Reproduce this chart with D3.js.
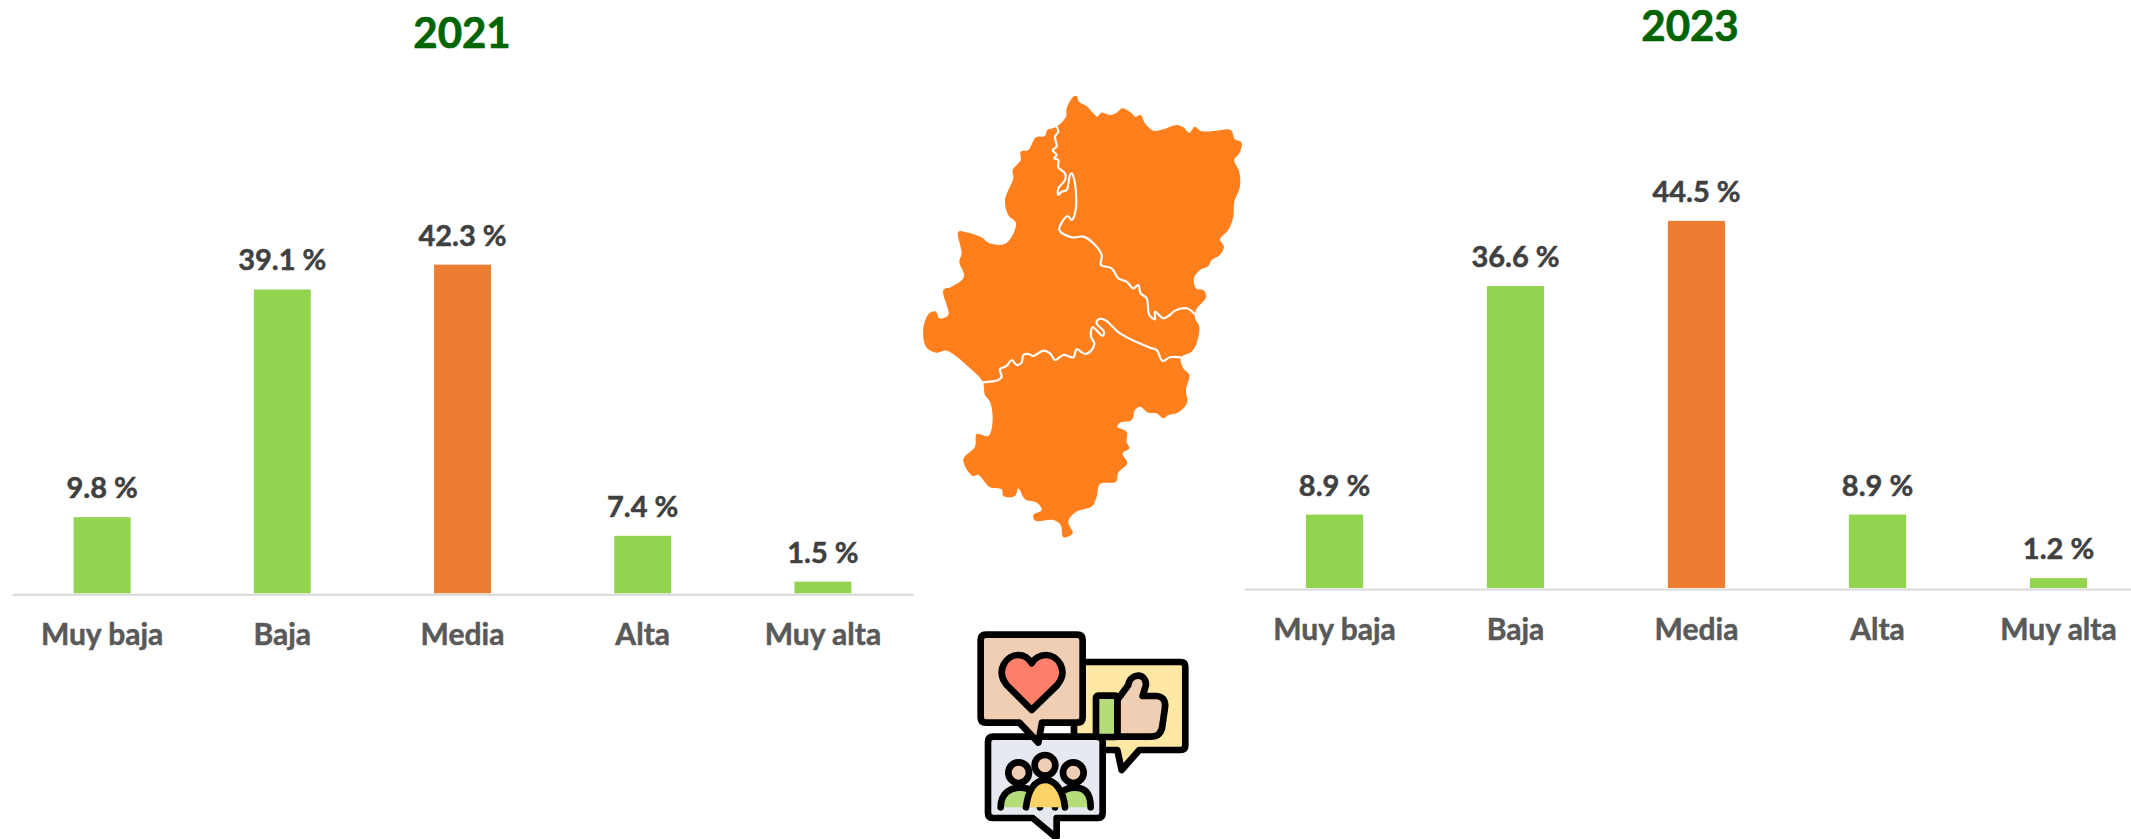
<!DOCTYPE html>
<html><head><meta charset="utf-8">
<script src="https://cdn.jsdelivr.net/npm/d3@7"></script>
<style>html,body{margin:0;padding:0;background:#fff;overflow:hidden}svg{display:block}
text{font-family:Lato,"Open Sans",sans-serif;font-weight:700}</style></head>
<body><svg id="c" width="2131" height="839"></svg>
<script>
const categories = ["Muy baja","Baja","Media","Alta","Muy alta"];
const values2021 = [9.8,39.1,42.3,7.4,1.5];
const values2023 = [8.9,36.6,44.5,8.9,1.2];
const highlight = "Media";
const mapOutline = [[530,48],[537,65],[560,78],[580,100],[592,110],[604,98],[630,105],[650,98],[668,85],[695,100],[705,110],[722,105],[735,130],[760,152],[790,148],[830,135],[850,142],[868,158],[885,140],[903,153],[950,152],[992,150],[1005,178],[1025,188],[1018,220],[1003,240],[1018,275],[1020,320],[1003,365],[1000,410],[985,450],[960,478],[972,500],[960,525],[935,540],[925,558],[900,570],[882,595],[888,625],[912,632],[918,652],[888,690],[885,715],[898,740],[890,790],[875,815],[843,832],[850,865],[868,885],[858,930],[862,965],[850,985],[830,1000],[805,1005],[790,1015],[770,1000],[745,998],[720,980],[705,990],[695,1020],[660,1028],[652,1040],[680,1055],[680,1085],[688,1105],[668,1120],[682,1150],[655,1178],[648,1205],[600,1212],[590,1250],[575,1280],[530,1295],[505,1325],[518,1360],[490,1372],[482,1335],[460,1320],[405,1322],[400,1305],[425,1290],[410,1268],[375,1258],[355,1225],[345,1248],[310,1248],[305,1228],[270,1222],[235,1185],[218,1188],[190,1138],[225,1100],[230,1062],[265,1068],[278,1020],[270,965],[255,945],[248,905],[205,860],[140,812],[110,818],[78,800],[70,745],[88,700],[108,695],[118,715],[145,705],[130,630],[155,620],[192,590],[178,545],[185,520],[175,455],[205,458],[245,472],[268,490],[318,490],[348,430],[325,405],[315,360],[340,295],[338,270],[362,240],[362,215],[385,210],[408,172],[435,168],[442,150],[470,140],[498,110],[500,85],[520,50]];
const borderNorth = [[470,140],[475,155],[465,170],[470,200],[458,210],[470,225],[463,235],[475,240],[475,262],[495,280],[495,300],[475,325],[475,345],[485,335],[500,330],[510,285],[515,280],[525,310],[527,390],[515,420],[503,408],[478,450],[515,472],[550,470],[580,490],[605,525],[603,555],[635,565],[655,595],[680,605],[700,625],[715,615],[722,640],[740,655],[748,705],[765,718],[765,695],[790,715],[810,705],[825,692],[860,685],[885,703]];
const borderSouth = [[248,907],[295,900],[305,890],[300,868],[320,858],[335,840],[350,855],[365,848],[370,825],[385,822],[400,828],[430,812],[450,820],[465,840],[490,825],[520,832],[530,808],[555,822],[575,810],[583,790],[573,770],[578,742],[608,768],[612,755],[590,730],[595,718],[615,720],[660,760],[750,803],[770,810],[788,843],[810,832],[843,832]];

const svg = d3.select("#c");
const GREEN="#92d350", ORANGE="#ed7d31";

function panel(opt){
  const x = d3.scaleBand().domain(categories).range(opt.xr).paddingInner(0.684).paddingOuter(0.342);
  const y = d3.scaleLinear().domain([0,50]).range([opt.base, opt.base-50*opt.k]);
  const g = svg.append("g");
  g.selectAll("rect").data(opt.values).join("rect")
    .attr("x",(d,i)=>x(categories[i])).attr("width",x.bandwidth())
    .attr("y",d=>y(d)).attr("height",d=>y(0)-y(d))
    .attr("fill",(d,i)=>categories[i]===highlight?ORANGE:GREEN);
  g.selectAll("text.v").data(opt.values).join("text").attr("class","v")
    .attr("x",(d,i)=>x(categories[i])+x.bandwidth()/2)
    .attr("y",d=>y(d)-19).attr("text-anchor","middle")
    .attr("font-size",29).attr("fill","#404040").attr("stroke","#404040").attr("stroke-width",0.5).text(d=>d.toFixed(1)+" %");
  const ax = g.append("g").attr("transform",`translate(0,${opt.base+1})`)
    .call(d3.axisBottom(x).tickSize(0).tickPadding(0));
  ax.select(".domain").attr("stroke","#d9d9d9").attr("stroke-width",2);
  ax.selectAll("text").attr("font-size",30).attr("fill","#595959").attr("stroke","#595959").attr("stroke-width",0.5).attr("dy",0).attr("y",opt.catY-opt.base-1)
    .style("font-family",'Lato,"Open Sans",sans-serif');
  svg.append("text").attr("x",opt.tx).attr("y",opt.ty).attr("text-anchor","middle")
    .attr("font-size",42).attr("fill","#006400").attr("stroke","#006400").attr("stroke-width",0.7).text(opt.title);
}
panel({values:values2021,xr:[12,913],base:593.3,k:7.77,catY:645,title:"2021",tx:462,ty:48});
panel({values:values2023,xr:[1244,2149],base:588,k:8.25,catY:640,title:"2023",tx:1690,ty:41});

// Aragon map (zoom-crop coordinates, 3x)
const mapG = svg.append("g").attr("transform","translate(900,80) scale(0.3333)");
mapG.append("path").attr("d",d3.line().curve(d3.curveCatmullRomClosed.alpha(0.5))(mapOutline)).attr("fill","#ff7f1d");
const bl = d3.line().curve(d3.curveCatmullRom.alpha(0.5));
[borderNorth,borderSouth].forEach(b=>mapG.append("path").attr("d",bl(b)).attr("fill","none").attr("stroke","#fff").attr("stroke-width",6.5).attr("stroke-linejoin","round"));

// Opinion icon (zoom-crop coordinates, 3x)
const ic = svg.append("g").attr("transform","translate(960,620) scale(0.3333)")
  .attr("stroke","#000").attr("stroke-width",20).attr("stroke-linejoin","round").attr("stroke-linecap","round");
ic.append("path").attr("fill","#ffe8a3").attr("d","M360,126H662Q676,126 676,140V376Q676,390 662,390H538L485,450L472,390H354Q342,390 342,376V300Z");
ic.append("path").attr("fill","#e6e9ef").attr("d","M100,350H412Q428,350 428,366V578Q428,594 412,594H290V650H285L218,594H100Q84,594 84,578V366Q84,350 100,350Z");
ic.append("path").attr("fill","#f0ceb3").attr("d","M78,44H352Q368,44 368,60V292Q368,308 352,308H246L235,368L178,308H78Q62,308 62,292V60Q62,44 78,44Z");
ic.append("path").attr("fill","#ff7f6a").attr("d","M215,270L140,195C105,150 140,105 175,105C195,105 208,118 215,130C222,118 238,105 258,105C292,105 328,150 292,195Z");
ic.append("path").attr("fill","#f0ceb3").attr("d","M472,240L505,195C510,160 558,155 558,195L548,228H590C615,230 618,250 614,270L606,325C600,345 590,350 570,350H472Z");
ic.append("rect").attr("fill","#b5dc7b").attr("x",408).attr("y",227).attr("width",64).attr("height",124).attr("rx",6);
ic.append("path").attr("fill","#b5dc7b").attr("d","M122,562C122,520 150,503 180,503C210,503 235,520 240,562");
ic.append("path").attr("fill","#b5dc7b").attr("d","M285,562C290,520 315,503 345,503C375,503 392,520 392,562");
ic.append("path").attr("fill","#fcd366").attr("d","M198,562C205,510 225,480 255,480C285,480 310,510 315,562");
ic.append("circle").attr("fill","#f0ceb3").attr("cx",176).attr("cy",458).attr("r",31);
ic.append("circle").attr("fill","#f0ceb3").attr("cx",340).attr("cy",458).attr("r",31);
ic.append("circle").attr("fill","#f0ceb3").attr("cx",255).attr("cy",436).attr("r",31);
</script></body></html>
